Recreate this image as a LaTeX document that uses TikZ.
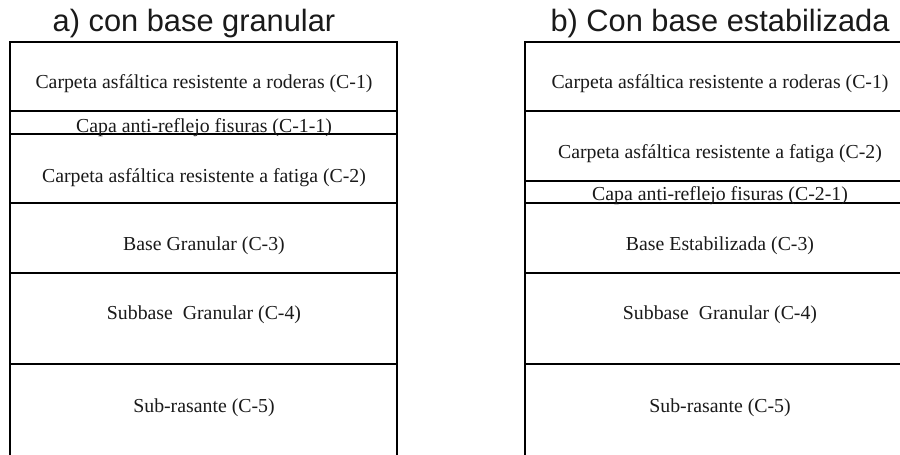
\documentclass[tikz,border=0pt]{standalone}
\usepackage{fontspec}
\setmainfont{Liberation Serif}
\newfontfamily\titlefont{Liberation Sans}
\definecolor{ink}{HTML}{1A1A1A}
\begin{document}
\begin{tikzpicture}[x=1pt,y=-1pt,
  layer/.style={draw=black,line width=2.6pt},
  lbl/.style={anchor=base,inner sep=0pt,text=ink,font=\fontsize{19.8}{22}\selectfont},
  ttl/.style={anchor=base,inner sep=0pt,text=ink,font=\titlefont\fontsize{30.8}{34}\selectfont}]
\useasboundingbox[fill=white] (0,0) rectangle (900,455);
\clip (0,0) rectangle (900,455);
% titles
\node[ttl] (ta) at (194,31.5) {a) con base granular};
\node[ttl] (tb) at (720,31.5) {b) Con base estabilizada};
% left column layers
\draw[layer] (10,42) rectangle (397,111);
\draw[layer] (10,111) rectangle (397,134);
\draw[layer] (10,134) rectangle (397,203);
\draw[layer] (10,203) rectangle (397,273);
\draw[layer] (10,273) rectangle (397,364);
\draw[layer] (10,364) rectangle (397,462);
% right column layers
\draw[layer] (525,42) rectangle (915,111);
\draw[layer] (525,111) rectangle (915,181);
\draw[layer] (525,181) rectangle (915,203);
\draw[layer] (525,203) rectangle (915,273);
\draw[layer] (525,273) rectangle (915,364);
\draw[layer] (525,364) rectangle (915,462);
% left labels
\node[lbl] (a1) at (204,88) {Carpeta asfáltica resistente a roderas (C-1)};
\node[lbl] (a11) at (204,132) {Capa anti-reflejo fisuras (C-1-1)};
\node[lbl] (a2) at (204,182) {Carpeta asfáltica resistente a fatiga (C-2)};
\node[lbl] (a3) at (204,250) {Base Granular (C-3)};
\node[lbl] (a4) at (204,319) {Subbase\ \ Granular (C-4)};
\node[lbl] (a5) at (204,412) {Sub-rasante (C-5)};
% right labels
\node[lbl] (b1) at (720,88) {Carpeta asfáltica resistente a roderas (C-1)};
\node[lbl] (b2) at (720,158) {Carpeta asfáltica resistente a fatiga (C-2)};
\node[lbl] (b21) at (720,200) {Capa anti-reflejo fisuras (C-2-1)};
\node[lbl] (b3) at (720,250) {Base Estabilizada (C-3)};
\node[lbl] (b4) at (720,319) {Subbase\ \ Granular (C-4)};
\node[lbl] (b5) at (720,412) {Sub-rasante (C-5)};
\end{tikzpicture}
\end{document}
